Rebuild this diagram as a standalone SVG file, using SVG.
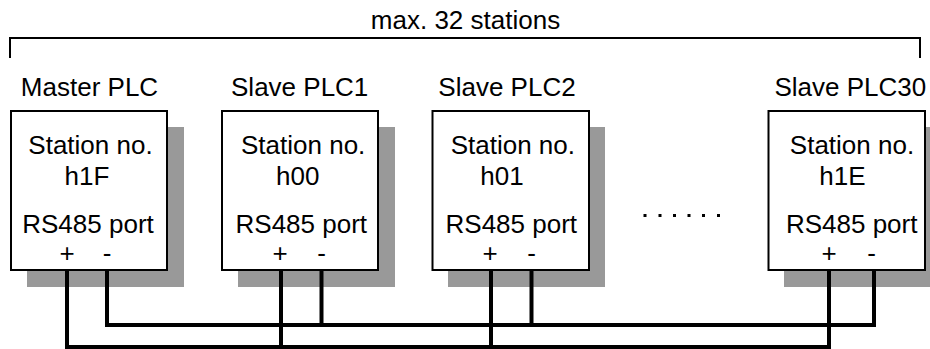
<svg xmlns="http://www.w3.org/2000/svg" width="930" height="349" viewBox="0 0 930 349">
<style>
text{font-family:"Liberation Sans",Arial,sans-serif;font-size:26px;fill:#000;text-anchor:middle}
.box{fill:#fff;stroke:#000;stroke-width:2}
.sh{fill:#999}
.w{fill:none;stroke:#000;stroke-width:4;stroke-linejoin:miter}
.br{fill:none;stroke:#000;stroke-width:2}
.dot{fill:#000}
</style>
<rect width="930" height="349" fill="#fff"/>
<g id="bracket">
<path class="br" d="M10 58 V38 H920 V58"/>
<text x="465.5" y="29">max. 32 stations</text>
</g>
<g id="master">
<rect class="sh" x="27" y="127" width="157" height="160"/>
<rect class="box" x="11" y="111" width="156" height="159"/>
<text x="89.5" y="95.7">Master PLC</text>
<text x="90.5" y="154.3">Station no.</text>
<text x="87" y="184.5">h1F</text>
<text x="88" y="232.5">RS485 port</text>
<text x="67" y="262">+</text>
<text x="107" y="262">-</text>
</g>
<g id="slave1">
<rect class="sh" x="238" y="127" width="157" height="160"/>
<rect class="box" x="222" y="111" width="156" height="159"/>
<text x="299.7" y="95.7">Slave PLC1</text>
<text x="303.2" y="154.3">Station no.</text>
<text x="297.8" y="184.5">h00</text>
<text x="301.3" y="232.5">RS485 port</text>
<text x="280" y="262">+</text>
<text x="321.5" y="262">-</text>
</g>
<g id="slave2">
<rect class="sh" x="448" y="127" width="157" height="160"/>
<rect class="box" x="432.5" y="111" width="156.5" height="159"/>
<text x="507" y="95.7">Slave PLC2</text>
<text x="512.8" y="154.3">Station no.</text>
<text x="502" y="184.5">h01</text>
<text x="511.3" y="232.5">RS485 port</text>
<text x="490" y="262">+</text>
<text x="531.5" y="262">-</text>
</g>
<g id="ellipsis">
<rect class="dot" x="643.5" y="214" width="3" height="3"/>
<rect class="dot" x="658.5" y="214" width="3" height="3"/>
<rect class="dot" x="673" y="214" width="3" height="3"/>
<rect class="dot" x="687.5" y="214" width="3" height="3"/>
<rect class="dot" x="702" y="214" width="3" height="3"/>
<rect class="dot" x="717" y="214" width="3" height="3"/>
</g>
<g id="slave30">
<rect class="sh" x="784" y="127" width="157" height="160"/>
<rect class="box" x="768.5" y="111" width="156.5" height="159"/>
<text x="850.3" y="95.7">Slave PLC30</text>
<text x="852" y="154.3">Station no.</text>
<text x="842.5" y="184.5">h1E</text>
<text x="851.7" y="232.5">RS485 port</text>
<text x="829" y="262">+</text>
<text x="871.7" y="262">-</text>
</g>
<g id="connectors">
<path class="w" d="M67 271 V347 H829 V271"/>
<path class="w" d="M107 271 V325 H874 V271"/>
<path class="w" d="M281 271 V349"/>
<path class="w" d="M321.5 271 V327"/>
<path class="w" d="M491 271 V349"/>
<path class="w" d="M531.5 271 V327"/>
</g>
</svg>
